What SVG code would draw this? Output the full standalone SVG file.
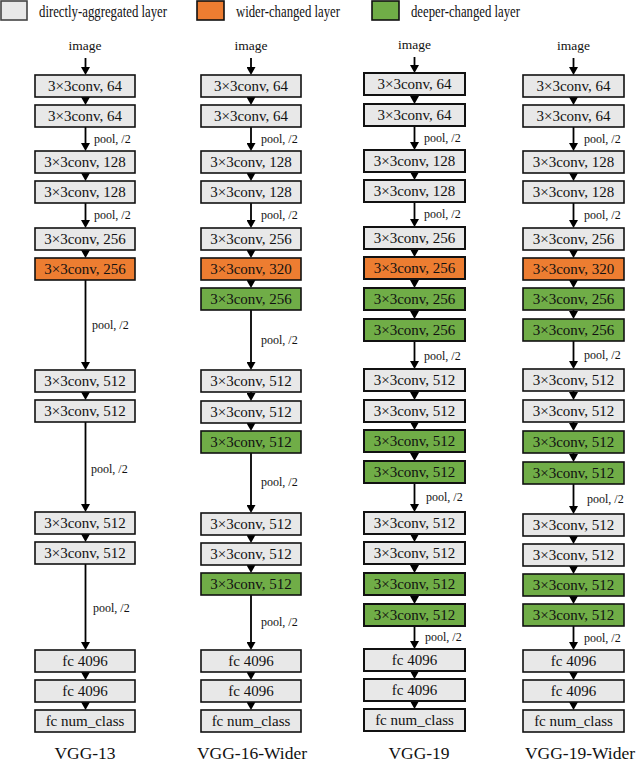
<svg xmlns="http://www.w3.org/2000/svg" width="640" height="764" viewBox="0 0 640 764">
<style>
text{font-family:"Liberation Serif","Times New Roman",serif;fill:#111}
.t{font-size:15px;text-anchor:middle}
.p{font-size:12px}
.img{font-size:13.5px;text-anchor:middle}
.cap{font-size:17.5px;text-anchor:middle}
.lg{font-size:16px}
rect{stroke:#111;stroke-width:1.6}
#c3 rect{stroke-width:2}
.g{fill:#e8e8e8}
.o{fill:#ed7d31}
.n{fill:#70ad47}
#conn line{stroke:#000;stroke-width:1.8;marker-end:url(#ah)}
</style>
<defs>
<marker id="ah" markerUnits="userSpaceOnUse" viewBox="0 0 8 9" markerWidth="8" markerHeight="9" refX="4" refY="4.5" orient="auto"><path d="M0,0 L8,4.5 L0,9 Z" fill="#000"/></marker>
</defs>
<g id="legend">
<rect class="g" x="1" y="1" width="26" height="19" style="stroke:#444"/>
<text class="lg" x="39" y="17" textLength="128" lengthAdjust="spacingAndGlyphs">directly-aggregated layer</text>
<rect class="o" x="197" y="1" width="27" height="19"/>
<text class="lg" x="236" y="17" textLength="104" lengthAdjust="spacingAndGlyphs">wider-changed layer</text>
<rect class="n" x="372" y="1" width="27" height="19"/>
<text class="lg" x="411" y="17" textLength="109" lengthAdjust="spacingAndGlyphs">deeper-changed layer</text>
</g>

<g id="conn">
<!-- column 1 -->
<line x1="85.5" y1="58" x2="85.5" y2="71"/>
<line x1="85.5" y1="97" x2="85.5" y2="101"/>
<line x1="85.5" y1="127" x2="85.5" y2="147"/>
<line x1="85.5" y1="173" x2="85.5" y2="177"/>
<line x1="85.5" y1="203" x2="85.5" y2="224"/>
<line x1="85.5" y1="250" x2="85.5" y2="254"/>
<line x1="85.5" y1="280" x2="85.5" y2="366"/>
<line x1="85.5" y1="392" x2="85.5" y2="396"/>
<line x1="85.5" y1="422" x2="85.5" y2="508"/>
<line x1="85.5" y1="534" x2="85.5" y2="538"/>
<line x1="85.5" y1="564" x2="85.5" y2="646"/>
<line x1="85.5" y1="672" x2="85.5" y2="676"/>
<line x1="85.5" y1="702" x2="85.5" y2="706"/>
<!-- column 2 -->
<line x1="251" y1="58" x2="251" y2="71"/>
<line x1="251" y1="97" x2="251" y2="101"/>
<line x1="251" y1="127" x2="251" y2="147"/>
<line x1="251" y1="173" x2="251" y2="177"/>
<line x1="251" y1="203" x2="251" y2="224"/>
<line x1="251" y1="250" x2="251" y2="254"/>
<line x1="251" y1="280" x2="251" y2="284"/>
<line x1="251" y1="310" x2="251" y2="366"/>
<line x1="251" y1="392" x2="251" y2="397"/>
<line x1="251" y1="423" x2="251" y2="427"/>
<line x1="251" y1="453" x2="251" y2="509"/>
<line x1="251" y1="535" x2="251" y2="539"/>
<line x1="251" y1="565" x2="251" y2="569"/>
<line x1="251" y1="595" x2="251" y2="646"/>
<line x1="251" y1="672" x2="251" y2="676"/>
<line x1="251" y1="702" x2="251" y2="706"/>
<!-- column 3 -->
<line x1="414.5" y1="57" x2="414.5" y2="69"/>
<line x1="414.5" y1="95" x2="414.5" y2="100"/>
<line x1="414.5" y1="126" x2="414.5" y2="146"/>
<line x1="414.5" y1="172" x2="414.5" y2="176"/>
<line x1="414.5" y1="202" x2="414.5" y2="223"/>
<line x1="414.5" y1="249" x2="414.5" y2="253"/>
<line x1="414.5" y1="279" x2="414.5" y2="284"/>
<line x1="414.5" y1="310" x2="414.5" y2="315"/>
<line x1="414.5" y1="341" x2="414.5" y2="365"/>
<line x1="414.5" y1="391" x2="414.5" y2="396"/>
<line x1="414.5" y1="422" x2="414.5" y2="426"/>
<line x1="414.5" y1="452" x2="414.5" y2="457"/>
<line x1="414.5" y1="483" x2="414.5" y2="508"/>
<line x1="414.5" y1="534" x2="414.5" y2="538"/>
<line x1="414.5" y1="564" x2="414.5" y2="569"/>
<line x1="414.5" y1="595" x2="414.5" y2="600"/>
<line x1="414.5" y1="626" x2="414.5" y2="645"/>
<line x1="414.5" y1="671" x2="414.5" y2="675"/>
<line x1="414.5" y1="701" x2="414.5" y2="705"/>
<!-- column 4 -->
<line x1="573.5" y1="58" x2="573.5" y2="71"/>
<line x1="573.5" y1="97" x2="573.5" y2="101"/>
<line x1="573.5" y1="127" x2="573.5" y2="147"/>
<line x1="573.5" y1="173" x2="573.5" y2="177"/>
<line x1="573.5" y1="203" x2="573.5" y2="224"/>
<line x1="573.5" y1="250" x2="573.5" y2="254"/>
<line x1="573.5" y1="280" x2="573.5" y2="284"/>
<line x1="573.5" y1="310" x2="573.5" y2="315"/>
<line x1="573.5" y1="341" x2="573.5" y2="365"/>
<line x1="573.5" y1="391" x2="573.5" y2="396"/>
<line x1="573.5" y1="422" x2="573.5" y2="427"/>
<line x1="573.5" y1="453" x2="573.5" y2="458"/>
<line x1="573.5" y1="484" x2="573.5" y2="510"/>
<line x1="573.5" y1="536" x2="573.5" y2="540"/>
<line x1="573.5" y1="566" x2="573.5" y2="570"/>
<line x1="573.5" y1="596" x2="573.5" y2="600"/>
<line x1="573.5" y1="626" x2="573.5" y2="646"/>
<line x1="573.5" y1="672" x2="573.5" y2="676"/>
<line x1="573.5" y1="702" x2="573.5" y2="706"/>
</g>

<g id="pool-labels">
<text class="p" x="94" y="143">pool, /2</text>
<text class="p" x="94" y="219">pool, /2</text>
<text class="p" x="92" y="329">pool, /2</text>
<text class="p" x="91" y="473">pool, /2</text>
<text class="p" x="93" y="612">pool, /2</text>
<text class="p" x="261" y="143">pool, /2</text>
<text class="p" x="261" y="219">pool, /2</text>
<text class="p" x="261" y="344">pool, /2</text>
<text class="p" x="261" y="486">pool, /2</text>
<text class="p" x="261" y="626">pool, /2</text>
<text class="p" x="424" y="142">pool, /2</text>
<text class="p" x="424" y="218">pool, /2</text>
<text class="p" x="424" y="360">pool, /2</text>
<text class="p" x="426" y="501">pool, /2</text>
<text class="p" x="425" y="641">pool, /2</text>
<text class="p" x="584" y="143">pool, /2</text>
<text class="p" x="584" y="219">pool, /2</text>
<text class="p" x="584" y="359">pool, /2</text>
<text class="p" x="587" y="503">pool, /2</text>
<text class="p" x="584" y="642">pool, /2</text>
</g>

<g id="c1">
<g id="c1-in"><text class="img" x="85" y="50">image</text></g>
<g id="c1-b1"><rect class="g" x="35" y="75" width="100" height="22"/><text class="t" x="85" y="91">3×3conv, 64</text></g>
<g id="c1-b2"><rect class="g" x="35" y="105" width="100" height="22"/><text class="t" x="85" y="121">3×3conv, 64</text></g>
<g id="c1-b3"><rect class="g" x="35" y="151" width="100" height="22"/><text class="t" x="85" y="167">3×3conv, 128</text></g>
<g id="c1-b4"><rect class="g" x="35" y="181" width="100" height="22"/><text class="t" x="85" y="197">3×3conv, 128</text></g>
<g id="c1-b5"><rect class="g" x="35" y="228" width="100" height="22"/><text class="t" x="85" y="244">3×3conv, 256</text></g>
<g id="c1-b6"><rect class="o" x="35" y="258" width="100" height="22"/><text class="t" x="85" y="274">3×3conv, 256</text></g>
<g id="c1-b7"><rect class="g" x="35" y="370" width="100" height="22"/><text class="t" x="85" y="386">3×3conv, 512</text></g>
<g id="c1-b8"><rect class="g" x="35" y="400" width="100" height="22"/><text class="t" x="85" y="416">3×3conv, 512</text></g>
<g id="c1-b9"><rect class="g" x="35" y="512" width="100" height="22"/><text class="t" x="85" y="528">3×3conv, 512</text></g>
<g id="c1-b10"><rect class="g" x="35" y="542" width="100" height="22"/><text class="t" x="85" y="558">3×3conv, 512</text></g>
<g id="c1-b11"><rect class="g" x="35" y="650" width="100" height="22"/><text class="t" x="85" y="666">fc 4096</text></g>
<g id="c1-b12"><rect class="g" x="35" y="680" width="100" height="22"/><text class="t" x="85" y="696">fc 4096</text></g>
<g id="c1-b13"><rect class="g" x="35" y="710" width="100" height="22"/><text class="t" x="85" y="726">fc num_class</text></g>
<g id="c1-cap"><text class="cap" x="85" y="759">VGG-13</text></g>
</g>

<g id="c2">
<g id="c2-in"><text class="img" x="251" y="50">image</text></g>
<g id="c2-b1"><rect class="g" x="201" y="75" width="100" height="22"/><text class="t" x="251" y="91">3×3conv, 64</text></g>
<g id="c2-b2"><rect class="g" x="201" y="105" width="100" height="22"/><text class="t" x="251" y="121">3×3conv, 64</text></g>
<g id="c2-b3"><rect class="g" x="201" y="151" width="100" height="22"/><text class="t" x="251" y="167">3×3conv, 128</text></g>
<g id="c2-b4"><rect class="g" x="201" y="181" width="100" height="22"/><text class="t" x="251" y="197">3×3conv, 128</text></g>
<g id="c2-b5"><rect class="g" x="201" y="228" width="100" height="22"/><text class="t" x="251" y="244">3×3conv, 256</text></g>
<g id="c2-b6"><rect class="o" x="201" y="258" width="100" height="22"/><text class="t" x="251" y="274">3×3conv, 320</text></g>
<g id="c2-b7"><rect class="n" x="201" y="288" width="100" height="22"/><text class="t" x="251" y="304">3×3conv, 256</text></g>
<g id="c2-b8"><rect class="g" x="201" y="370" width="100" height="22"/><text class="t" x="251" y="386">3×3conv, 512</text></g>
<g id="c2-b9"><rect class="g" x="201" y="401" width="100" height="22"/><text class="t" x="251" y="417">3×3conv, 512</text></g>
<g id="c2-b10"><rect class="n" x="201" y="431" width="100" height="22"/><text class="t" x="251" y="447">3×3conv, 512</text></g>
<g id="c2-b11"><rect class="g" x="201" y="513" width="100" height="22"/><text class="t" x="251" y="529">3×3conv, 512</text></g>
<g id="c2-b12"><rect class="g" x="201" y="543" width="100" height="22"/><text class="t" x="251" y="559">3×3conv, 512</text></g>
<g id="c2-b13"><rect class="n" x="201" y="573" width="100" height="22"/><text class="t" x="251" y="589">3×3conv, 512</text></g>
<g id="c2-b14"><rect class="g" x="201" y="650" width="100" height="22"/><text class="t" x="251" y="666">fc 4096</text></g>
<g id="c2-b15"><rect class="g" x="201" y="680" width="100" height="22"/><text class="t" x="251" y="696">fc 4096</text></g>
<g id="c2-b16"><rect class="g" x="201" y="710" width="100" height="22"/><text class="t" x="251" y="726">fc num_class</text></g>
<g id="c2-cap"><text class="cap" x="252" y="759">VGG-16-Wider</text></g>
</g>

<g id="c3">
<g id="c3-in"><text class="img" x="414.5" y="49">image</text></g>
<g id="c3-b1"><rect class="g" x="364" y="73" width="101" height="22"/><text class="t" x="414.5" y="89">3×3conv, 64</text></g>
<g id="c3-b2"><rect class="g" x="364" y="104" width="101" height="22"/><text class="t" x="414.5" y="120">3×3conv, 64</text></g>
<g id="c3-b3"><rect class="g" x="364" y="150" width="101" height="22"/><text class="t" x="414.5" y="166">3×3conv, 128</text></g>
<g id="c3-b4"><rect class="g" x="364" y="180" width="101" height="22"/><text class="t" x="414.5" y="196">3×3conv, 128</text></g>
<g id="c3-b5"><rect class="g" x="364" y="227" width="101" height="22"/><text class="t" x="414.5" y="243">3×3conv, 256</text></g>
<g id="c3-b6"><rect class="o" x="364" y="257" width="101" height="22"/><text class="t" x="414.5" y="273">3×3conv, 256</text></g>
<g id="c3-b7"><rect class="n" x="364" y="288" width="101" height="22"/><text class="t" x="414.5" y="304">3×3conv, 256</text></g>
<g id="c3-b8"><rect class="n" x="364" y="319" width="101" height="22"/><text class="t" x="414.5" y="335">3×3conv, 256</text></g>
<g id="c3-b9"><rect class="g" x="364" y="369" width="101" height="22"/><text class="t" x="414.5" y="385">3×3conv, 512</text></g>
<g id="c3-b10"><rect class="g" x="364" y="400" width="101" height="22"/><text class="t" x="414.5" y="416">3×3conv, 512</text></g>
<g id="c3-b11"><rect class="n" x="364" y="430" width="101" height="22"/><text class="t" x="414.5" y="446">3×3conv, 512</text></g>
<g id="c3-b12"><rect class="n" x="364" y="461" width="101" height="22"/><text class="t" x="414.5" y="477">3×3conv, 512</text></g>
<g id="c3-b13"><rect class="g" x="364" y="512" width="101" height="22"/><text class="t" x="414.5" y="528">3×3conv, 512</text></g>
<g id="c3-b14"><rect class="g" x="364" y="542" width="101" height="22"/><text class="t" x="414.5" y="558">3×3conv, 512</text></g>
<g id="c3-b15"><rect class="n" x="364" y="573" width="101" height="22"/><text class="t" x="414.5" y="589">3×3conv, 512</text></g>
<g id="c3-b16"><rect class="n" x="364" y="604" width="101" height="22"/><text class="t" x="414.5" y="620">3×3conv, 512</text></g>
<g id="c3-b17"><rect class="g" x="364" y="649" width="101" height="22"/><text class="t" x="414.5" y="665">fc 4096</text></g>
<g id="c3-b18"><rect class="g" x="364" y="679" width="101" height="22"/><text class="t" x="414.5" y="695">fc 4096</text></g>
<g id="c3-b19"><rect class="g" x="364" y="709" width="101" height="22"/><text class="t" x="414.5" y="725">fc num_class</text></g>
<g id="c3-cap"><text class="cap" x="419" y="759">VGG-19</text></g>
</g>

<g id="c4">
<g id="c4-in"><text class="img" x="573.5" y="50">image</text></g>
<g id="c4-b1"><rect class="g" x="523" y="75" width="101" height="22"/><text class="t" x="573.5" y="91">3×3conv, 64</text></g>
<g id="c4-b2"><rect class="g" x="523" y="105" width="101" height="22"/><text class="t" x="573.5" y="121">3×3conv, 64</text></g>
<g id="c4-b3"><rect class="g" x="523" y="151" width="101" height="22"/><text class="t" x="573.5" y="167">3×3conv, 128</text></g>
<g id="c4-b4"><rect class="g" x="523" y="181" width="101" height="22"/><text class="t" x="573.5" y="197">3×3conv, 128</text></g>
<g id="c4-b5"><rect class="g" x="523" y="228" width="101" height="22"/><text class="t" x="573.5" y="244">3×3conv, 256</text></g>
<g id="c4-b6"><rect class="o" x="523" y="258" width="101" height="22"/><text class="t" x="573.5" y="274">3×3conv, 320</text></g>
<g id="c4-b7"><rect class="n" x="523" y="288" width="101" height="22"/><text class="t" x="573.5" y="304">3×3conv, 256</text></g>
<g id="c4-b8"><rect class="n" x="523" y="319" width="101" height="22"/><text class="t" x="573.5" y="335">3×3conv, 256</text></g>
<g id="c4-b9"><rect class="g" x="523" y="369" width="101" height="22"/><text class="t" x="573.5" y="385">3×3conv, 512</text></g>
<g id="c4-b10"><rect class="g" x="523" y="400" width="101" height="22"/><text class="t" x="573.5" y="416">3×3conv, 512</text></g>
<g id="c4-b11"><rect class="n" x="523" y="431" width="101" height="22"/><text class="t" x="573.5" y="447">3×3conv, 512</text></g>
<g id="c4-b12"><rect class="n" x="523" y="462" width="101" height="22"/><text class="t" x="573.5" y="478">3×3conv, 512</text></g>
<g id="c4-b13"><rect class="g" x="523" y="514" width="101" height="22"/><text class="t" x="573.5" y="530">3×3conv, 512</text></g>
<g id="c4-b14"><rect class="g" x="523" y="544" width="101" height="22"/><text class="t" x="573.5" y="560">3×3conv, 512</text></g>
<g id="c4-b15"><rect class="n" x="523" y="574" width="101" height="22"/><text class="t" x="573.5" y="590">3×3conv, 512</text></g>
<g id="c4-b16"><rect class="n" x="523" y="604" width="101" height="22"/><text class="t" x="573.5" y="620">3×3conv, 512</text></g>
<g id="c4-b17"><rect class="g" x="523" y="650" width="101" height="22"/><text class="t" x="573.5" y="666">fc 4096</text></g>
<g id="c4-b18"><rect class="g" x="523" y="680" width="101" height="22"/><text class="t" x="573.5" y="696">fc 4096</text></g>
<g id="c4-b19"><rect class="g" x="523" y="710" width="101" height="22"/><text class="t" x="573.5" y="726">fc num_class</text></g>
<g id="c4-cap"><text class="cap" x="580" y="759">VGG-19-Wider</text></g>
</g>
</svg>
